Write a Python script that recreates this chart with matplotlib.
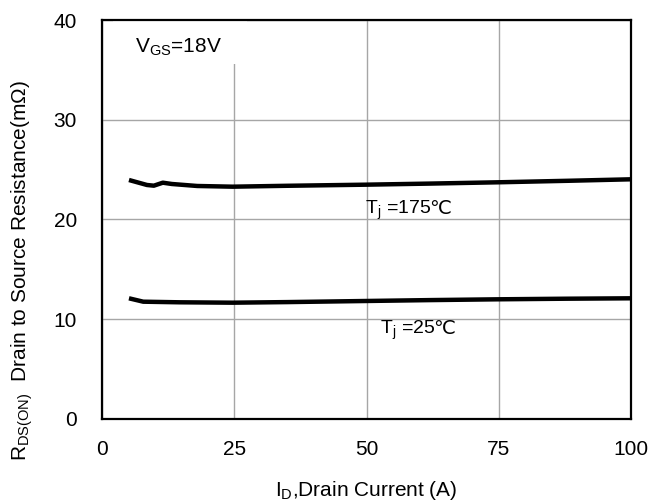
import matplotlib
matplotlib.use("Agg")
import matplotlib.pyplot as plt
from matplotlib.patches import Rectangle

plt.rcParams['font.family'] = ['Liberation Sans', 'DejaVu Sans']
plt.rcParams['mathtext.fontset'] = 'custom'
plt.rcParams['mathtext.rm'] = 'Liberation Sans'
plt.rcParams['mathtext.it'] = 'Liberation Sans'

# data
id_175 = [5.1, 8.5, 9.8, 11.5, 13.2, 18, 24.7, 35, 49.8, 62, 74.9, 88, 100]
r_175 = [23.96, 23.46, 23.39, 23.69, 23.56, 23.36, 23.29, 23.38, 23.49, 23.6, 23.73, 23.88, 24.03]
id_25 = [5.1, 7.8, 14.6, 24.7, 35, 49.8, 62, 74.9, 88, 100]
r_25 = [12.10, 11.76, 11.70, 11.66, 11.72, 11.83, 11.92, 12.0, 12.06, 12.1]
xticks = [0, 25, 50, 75, 100]
yticks = [0, 10, 20, 30, 40]

fig = plt.figure(figsize=(6.65, 5.04), dpi=100)
ax = fig.add_axes([102/665, 1-419/504, (631-102)/665, (419-20)/504])

ax.plot(id_175, r_175, color='black', lw=3.2, solid_capstyle='butt', zorder=3)
ax.plot(id_25, r_25, color='black', lw=3.2, solid_capstyle='butt', zorder=3)

ax.set_xlim(0, 100)
ax.set_ylim(0, 40)
ax.set_xticks(xticks)
ax.set_yticks(yticks)
ax.tick_params(length=0, labelsize=15)
ax.tick_params(axis='y', pad=18)
ax.tick_params(axis='x', pad=15)
ax.grid(True, color='#a6a6a6', lw=1.0)
ax.set_axisbelow(True)
for s in ax.spines.values():
    s.set_linewidth(1.6)
    s.set_color('black')

# white box behind the V_GS label (interrupts the grid line as in the reference)
ax.add_patch(Rectangle((2, 35.6), 25.5, 4.4, facecolor='white', edgecolor='none', zorder=1))
ax.text(6.2, 37.3, r'V$_{\mathrm{GS}}$=18V', fontsize=15, va='center', ha='left', zorder=2)


def temp_label(x, y, num):
    t = ax.text(x, y, r'T$_{\mathrm{j}}$ =' + num, fontsize=14, va='baseline', ha='left')
    fig.canvas.draw()
    w = t.get_window_extent().width * 72 / fig.dpi - 1.5
    ax.annotate('℃', xy=(x, y), xycoords='data', xytext=(w, 0),
                textcoords='offset points', fontsize=14, va='baseline', ha='left',
                family=['Liberation Sans', 'DejaVu Sans'])


temp_label(49.8, 20.6, '175')
temp_label(52.5, 8.5, '25')

fig.text(366/665, 1-490/504, r'I$_{\mathrm{D}}$,Drain Current (A)', fontsize=15,
         ha='center', va='center')
fig.text(22/665, 1-270/504, r'R$_{\mathrm{DS(ON)}}$  Drain to Source Resistance(mΩ)',
         fontsize=15, rotation=90, ha='center', va='center')

fig.savefig('out.png', dpi=100)
